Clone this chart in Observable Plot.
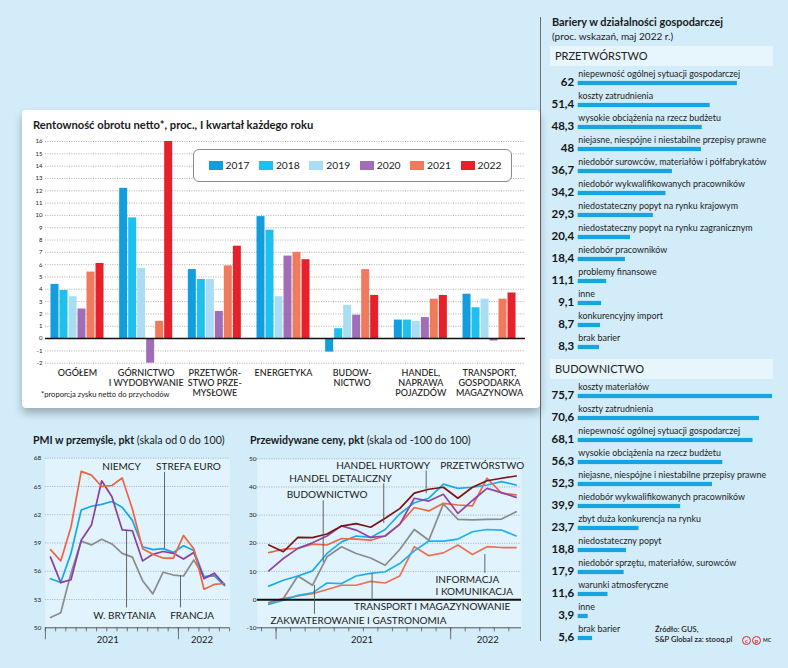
<!DOCTYPE html>
<html><head><meta charset="utf-8">
<script src="https://cdn.jsdelivr.net/npm/d3@7"></script>
<script src="https://cdn.jsdelivr.net/npm/@observablehq/plot@0.6"></script>
<style>
body{margin:0;background:#d2ecf9;}
#root{position:relative;width:788px;height:668px;overflow:hidden;background:#d2ecf9;font-family:Lato,"Noto Sans",sans-serif;color:#1a1a1a;}
#root div{position:absolute;white-space:nowrap;}
.b{font-weight:bold;}
</style></head><body><div id="root"></div>
<script>
// ---------- DATA ----------
const categories = ["OGÓŁEM","GÓRNICTWO\nI WYDOBYWANIE","PRZETWÓR-\nSTWO PRZE-\nMYSŁOWE","ENERGETYKA","BUDOW-\nNICTWO","HANDEL,\nNAPRAWA\nPOJAZDÓW","TRANSPORT,\nGOSPODARKA\nMAGAZYNOWA"];
const years = ["2017","2018","2019","2020","2021","2022"];
const yearColors = ["#129ede","#1ec0ee","#a8ddf4","#a06db6","#f07a5c","#e6212b"];
const v2017 = [4.4, 12.2, 5.6, 9.9, -1.1, 1.5, 3.6];
const v2018 = [3.9, 9.8, 4.8, 8.8, 0.8, 1.5, 2.5];
const v2019 = [3.4, 5.7, 4.8, 3.4, 2.7, 1.4, 3.2];
const v2020 = [2.4, -2.0, 2.2, 6.7, 1.9, 1.7, -0.2];
const v2021 = [5.4, 1.4, 5.9, 7.0, 5.6, 3.2, 3.2];
const v2022 = [6.1, 16.0, 7.5, 6.4, 3.5, 3.5, 3.7];
const barTicks = [-2,-1,0,1,2,3,4,5,6,7,8,9,10,11,12,13,14,15,16];

// months Dec 2020 .. May 2022
const months = ["XII 2020","I 2021","II 2021","III 2021","IV 2021","V 2021","VI 2021","VII 2021","VIII 2021","IX 2021","X 2021","XI 2021","XII 2021","I 2022","II 2022","III 2022","IV 2022","V 2022"];
const pmiNiemcy  = [58.3, 57.1, 60.7, 66.6, 66.2, 65.0, 65.1, 65.9, 62.6, 58.4, 57.8, 57.4, 57.4, 59.8, 58.4, 54.1, 54.6, 54.7];
const pmiEuro    = [55.2, 54.8, 57.9, 62.5, 62.9, 63.1, 63.4, 62.8, 61.4, 58.6, 58.3, 58.4, 58.0, 58.7, 58.2, 55.4, 55.6, 54.5];
const pmiUK      = [57.5, 54.8, 55.1, 59.3, 60.9, 65.6, 63.9, 60.4, 60.3, 57.1, 57.8, 58.1, 57.9, 57.3, 58.0, 55.2, 55.8, 54.6];
const pmiFrancja = [51.1, 51.6, 55.8, 59.2, 58.8, 59.4, 58.9, 57.9, 57.5, 55.0, 53.6, 55.9, 55.6, 55.5, 57.2, 55.4, 55.5, 54.5];
const pmiTicks = [50,53,56,59,62,65,68];

const cenyDetal    = [19.4, 17.0, 22.1, 22.0, 23.3, 26.1, 27.0, 25.7, 28.9, 32.3, 37.8, 39.2, 39.9, 36.0, 39.9, 42.2, 43.1, 43.9];
const cenyHurt     = [10.2, 14.6, 18.2, 20.2, 22.6, 26.2, 24.7, 22.1, 22.6, 26.7, 36.0, 35.0, 37.4, 30.6, 35.2, 39.5, 38.0, 36.3];
const cenyBudow    = [4.8, 6.9, 8.4, 10.2, 16.4, 20.5, 22.6, 22.1, 24.9, 30.4, 34.4, 36.0, 41.0, 39.5, 39.9, 40.7, 41.9, 40.7];
const cenyPrzetw   = [16.7, 17.9, 18.2, 19.7, 19.4, 21.7, 21.5, 21.1, 22.6, 26.8, 32.7, 31.5, 34.2, 33.6, 33.3, 43.1, 37.8, 37.2];
const cenyZakw     = [-1.2, 0.4, 8.4, 5.1, 15.2, 18.8, 16.4, 14.8, 12.2, 17.8, 24.9, 21.1, 34.0, 28.5, 28.3, 28.5, 28.6, 31.2];
const cenyTransp   = [-1.7, -0.2, 1.5, 2.4, 5.9, 5.7, 8.4, 9.3, 9.9, 12.8, 17.3, 20.8, 20.8, 21.5, 24.1, 24.9, 24.7, 22.6];
const cenyInfo     = [-1.0, 0.4, 1.3, 2.1, 3.6, 5.1, 5.1, 6.5, 5.9, 8.4, 18.8, 15.6, 16.6, 19.4, 16.0, 18.8, 18.5, 18.5];
const cenyTicks = [-10,0,10,20,30,40,50];

const przetLabels = ["niepewność ogólnej sytuacji gospodarczej","koszty zatrudnienia","wysokie obciążenia na rzecz budżetu","niejasne, niespójne i niestabilne przepisy prawne","niedobór surowców, materiałów i półfabrykatów","niedobór wykwalifikowanych pracowników","niedostateczny popyt na rynku krajowym","niedostateczny popyt na rynku zagranicznym","niedobór pracowników","problemy finansowe","inne","konkurencyjny import","brak barier"];
const przetValues = [62, 51.4, 48.3, 48, 36.7, 34.2, 29.3, 20.4, 18.4, 11.1, 9.1, 8.7, 8.3];
const budLabels = ["koszty materiałów","koszty zatrudnienia","niepewność ogólnej sytuacji gospodarczej","wysokie obciążenia na rzecz budżetu","niejasne, niespójne i niestabilne przepisy prawne","niedobór wykwalifikowanych pracowników","zbyt duża konkurencja na rynku","niedostateczny popyt","niedobór sprzętu, materiałów, surowców","warunki atmosferyczne","inne","brak barier"];
const budValues = [75.7, 70.6, 68.1, 56.3, 52.3, 39.9, 23.7, 18.8, 17.9, 11.6, 3.9, 5.6];

// annotations (data coordinates: month index, value)
const pmiNotes = [{text:"NIEMCY",t:6.94,v:67.1},{text:"STREFA EURO",t:13.48,v:67.1},{text:"W. BRYTANIA",t:7.23,v:51.3},{text:"FRANCJA",t:13.84,v:51.3}];
const pmiLeaders = [{t:7.43,v1:52.1,v2:60.3},{t:12.7,v1:52.1,v2:55.5},{t:11.14,v1:66.5,v2:58.4}];
const pmiYears = [{t:5.6,label:"2021"},{t:14.8,label:"2022"}];
const cenyNotes = [{text:"HANDEL HURTOWY",t:7.86,v:47.5},{text:"PRZETWÓRSTWO",t:14.67,v:47.5},{text:"HANDEL DETALICZNY",t:4.93,v:43.0},{text:"BUDOWNICTWO",t:4.01,v:37.2},{text:"ZAKWATEROWANIE I GASTRONOMIA",t:6.16,v:-7.6},{text:"TRANSPORT I MAGAZYNOWANIE",t:11.23,v:-2.6}];
const cenyInfoNote = [{text:"INFORMACJA\nI KOMUNIKACJA",t:11.46,v:5.1}];
const cenyLeaders = [{t:10.82,v1:45.7,v2:37.6},{t:7.9,v1:41.1,v2:27.1},{t:3.74,v1:35.1,v2:13.2},{t:3.14,v1:-5.2,v2:5.1},{t:7.1,v1:-0.25,v2:9.2},{t:14.85,v1:9.3,v2:16.0}];
const cenyYears = [{t:6.4,label:"2021"},{t:15.05,label:"2022"}];

// ---------- LAYOUT ----------
const root = document.getElementById("root");
function div(css, html){const d=document.createElement("div");d.style.cssText=css;if(html!==undefined)d.innerHTML=html;root.appendChild(d);return d;}
function place(node, left, top){const d=div(`left:${left}px;top:${top}px;`);d.appendChild(node);return d;}
const baseStyle = {fontFamily:"Lato, 'Noto Sans', sans-serif", fontSize:"6px", background:"none", color:"#222", overflow:"visible"};

div("left:540px;top:17px;width:1px;height:624px;background:#6f6f6f;");
div("left:22px;top:110px;width:518px;height:298px;background:#fff;border-radius:4px;box-shadow:0 5px 9px rgba(0,0,0,0.28);");
div("left:33px;top:119px;font-size:11.2px;line-height:12px;font-weight:bold;", "Rentowność obrotu netto*, proc., I kwartał każdego roku");
div("left:41px;top:389px;font-size:7.6px;line-height:10px;", "*proporcja zysku netto do przychodów");

// ---- bar chart ----
const bw = 9/68.67;
const yearValues = [v2017, v2018, v2019, v2020, v2021, v2022];
const barData = [];
categories.forEach((c,i)=>years.forEach((y,j)=>barData.push({i, j, value: yearValues[j][i], color: yearColors[j]})));
const barPlot = Plot.plot({
  width:518, height:298, marginLeft:23, marginRight:15, marginTop:31, marginBottom:45.3,
  x:{domain:[-0.466, 6.524], axis:null},
  y:{domain:[-2,16], ticks:barTicks, tickSize:0, tickPadding:3, label:null, tickFormat:d=>String(d)},
  color:{type:"identity"},
  style: baseStyle,
  marks:[
    Plot.ruleY(barTicks.filter(d=>d!==0), {stroke:"#8e8e8e", strokeWidth:0.7, strokeDasharray:"1,1.4"}),
    Plot.rectY(barData, {x1:d=>d.i+(d.j-3)*bw, x2:d=>d.i+(d.j-2)*bw, y1:0, y2:"value", fill:"color", insetLeft:0.5, insetRight:0.5}),
    Plot.ruleY([0], {stroke:"#111", strokeWidth:1.6}),
    Plot.text(categories, {x:(d,i)=>i, y:-2, text:d=>d, dy:6, lineAnchor:"top", lineHeight:1.1, fontSize:9, fontWeight:500, fill:"#222"})
  ]
});
place(barPlot, 22, 110);

// legend
const leg = div("left:193px;top:149px;width:317px;height:31px;border:1px solid #8a8a8a;border-radius:6px;background:#fff;");
years.forEach((y,j)=>{
  const x = 14.5 + j*50.4;
  const s = document.createElement("div");
  s.style.cssText=`position:absolute;left:${x}px;top:11px;width:14px;height:9px;background:${yearColors[j]};`;
  leg.appendChild(s);
  const t = document.createElement("div");
  t.style.cssText=`position:absolute;left:${x+17}px;top:9px;font-size:10.3px;line-height:12px;color:#222;`;
  t.textContent=y; leg.appendChild(t);
});

// ---- PMI ----
div("left:33px;top:434px;font-size:10.6px;line-height:12px;", "<span class='b'>PMI w przemyśle, pkt</span> (skala od 0 do 100)");
const pmiSeries = [
  {name:"FRANCJA", color:"#8c8c8c", values:pmiFrancja},
  {name:"STREFA EURO", color:"#19a7e4", values:pmiEuro},
  {name:"W. BRYTANIA", color:"#8b3f9f", values:pmiUK},
  {name:"NIEMCY", color:"#ee6446", values:pmiNiemcy}
];
const pmiRows = pmiSeries.flatMap(s=>s.values.map((v,t)=>({name:s.name, color:s.color, t, v, m:months[t]})));
const pmiPx = 169.6/18;
const pmiTickX = months.map((m,t)=>t-0.5).concat([17.5]);
const pmiPlot = Plot.plot({
  width:222, height:210, marginLeft:24.9, marginRight:12.9, marginTop:9.7, marginBottom:30.7,
  x:{domain:[-0.5,17.5], axis:null},
  y:{domain:[50,68], ticks:pmiTicks, tickSize:0, tickPadding:4.2, label:null, tickFormat:d=>String(d)},
  color:{type:"identity"},
  style:{...baseStyle, fontSize:"6.5px"},
  marks:[
    Plot.frame({fill:"#e1f3fc", stroke:"none"}),
    Plot.ruleY(pmiTicks.filter(d=>d!==50), {stroke:"#7f97a6", strokeWidth:0.7, strokeDasharray:"1,1.4"}),
    Plot.ruleY([50], {stroke:"#555", strokeWidth:1}),
    Plot.ruleX(pmiTickX, {x:d=>d, y1:50, y2:50-4/pmiPx, stroke:"#555", strokeWidth:0.8}),
    Plot.ruleX([-0.5, 12.5], {x:d=>d, y1:50, y2:50-12/pmiPx, stroke:"#555", strokeWidth:0.8}),
    Plot.line(pmiRows, {x:"t", y:"v", z:"name", stroke:"color", strokeWidth:1.7}),
    Plot.ruleX(pmiLeaders, {x:"t", y1:"v1", y2:"v2", stroke:"#555", strokeWidth:0.9}),
    Plot.text(pmiNotes, {x:"t", y:"v", text:"text", fontSize:10, fill:"#1a1a1a"}),
    Plot.text(pmiYears, {x:"t", y:50, text:"label", dy:12, fontSize:9.5, fill:"#1a1a1a"})
  ]
});
place(pmiPlot, 20, 448);

// ---- Ceny ----
div("left:250px;top:434px;font-size:10.6px;line-height:12px;", "<span class='b'>Przewidywane ceny, pkt</span> (skala od -100 do 100)");
const cenySeries = [
  {name:"Informacja i komunikacja", color:"#ef7050", values:cenyInfo},
  {name:"Transport i magazynowanie", color:"#1fb2ea", values:cenyTransp},
  {name:"Zakwaterowanie i gastronomia", color:"#8a8a8a", values:cenyZakw},
  {name:"Budownictwo", color:"#1aaee8", values:cenyBudow},
  {name:"Przetwórstwo", color:"#ee6848", values:cenyPrzetw},
  {name:"Handel hurtowy", color:"#9045a8", values:cenyHurt},
  {name:"Handel detaliczny", color:"#7a1418", values:cenyDetal}
];
const cenyRows = cenySeries.flatMap(s=>s.values.map((v,t)=>({name:s.name, color:s.color, t, v, m:months[t]})));
const cenyPx = 169/60;
const cenyTickX = months.map((m,t)=>t-0.5);
const cenyPlot = Plot.plot({
  width:285, height:210, marginLeft:11.95, marginRight:9, marginTop:10.3, marginBottom:30.7,
  x:{domain:[-0.78,17.37], axis:null},
  y:{domain:[-10,50], ticks:cenyTicks, tickSize:0, tickPadding:1, label:null, tickFormat:d=>String(d)},
  color:{type:"identity"},
  style:{...baseStyle, fontSize:"6.5px"},
  marks:[
    Plot.frame({fill:"#e1f3fc", stroke:"none"}),
    Plot.ruleY(cenyTicks.filter(d=>d>0), {stroke:"#7f97a6", strokeWidth:0.7, strokeDasharray:"1,1.4"}),
    Plot.ruleY([-10], {stroke:"#555", strokeWidth:1}),
    Plot.ruleX(cenyTickX, {x:d=>d, y1:-10, y2:-10-4/cenyPx, stroke:"#555", strokeWidth:0.8}),
    Plot.ruleX([0.5, 12.5], {x:d=>d, y1:-10, y2:-10-12/cenyPx, stroke:"#555", strokeWidth:0.8}),
    Plot.line(cenyRows, {x:"t", y:"v", z:"name", stroke:"color", strokeWidth:1.7}),
    Plot.ruleY([0], {stroke:"#111", strokeWidth:2}),
    Plot.ruleX(cenyLeaders, {x:"t", y1:"v1", y2:"v2", stroke:"#555", strokeWidth:0.9}),
    Plot.text(cenyNotes, {x:"t", y:"v", text:"text", fontSize:10, fill:"#1a1a1a"}),
    Plot.text(cenyInfoNote, {x:"t", y:"v", text:"text", textAnchor:"start", lineAnchor:"middle", lineHeight:1.2, fontSize:10, fill:"#1a1a1a"}),
    Plot.text(cenyYears, {x:"t", y:-10, text:"label", dy:12, fontSize:9.5, fill:"#1a1a1a"})
  ]
});
place(cenyPlot, 245, 448);

// ---- right panel ----
div("left:552px;top:16px;font-size:10.9px;line-height:12px;font-weight:bold;", "Bariery w działalności gospodarczej");
div("left:552px;top:30px;font-size:10px;line-height:12px;", "(proc. wskazań, maj 2022 r.)");
div("left:550px;top:46px;width:223px;height:19.5px;background:#e7f5fd;");
div("left:555px;top:50px;font-size:11px;line-height:12px;color:#222;", "PRZETWÓRSTWO");
div("left:550px;top:359px;width:223px;height:19.5px;background:#e7f5fd;");
div("left:555px;top:363px;font-size:11px;line-height:12px;color:#222;", "BUDOWNICTWO");

const fmt = v => String(v).replace(".", ",");
function barrierPlot(labels, values, marginTop, height){
  const rows = labels.map((l,i)=>({label:l, value:values[i]}));
  const step = 22.27;
  return Plot.plot({
    width:248, height, marginTop, marginBottom: height - marginTop - labels.length*step, marginLeft:37.7, marginRight:4.9,
    x:{domain:[0,80], axis:null},
    y:{domain:labels, axis:null, padding:0},
    style: baseStyle,
    marks:[
      Plot.barX(rows, {x:"value", y:"label", fill:"#17a5e1", insetTop:8.9, insetBottom:8.9}),
      Plot.text(rows, {x:0, y:"label", text:d=>fmt(d.value), textAnchor:"end", dx:-4, dy:-1.2, fontSize:11.5, fontWeight:"bold", fill:"#151515"}),
      Plot.text(rows, {x:0, y:"label", text:"label", textAnchor:"start", dy:-9.4, fontSize:8.9, fill:"#222"})
    ]
  });
}
place(barrierPlot(przetLabels, przetValues, 3.865, 295), 540, 66);
place(barrierPlot(budLabels, budValues, 3.17, 272), 540, 380);

div("left:655px;top:625px;font-size:7.6px;line-height:9.5px;font-weight:600;color:#222;", "Źródło: GUS,<br>S&amp;P Global za: stooq.pl");
div("left:742px;top:636px;width:7px;height:7px;border:1.3px solid #e2262d;border-radius:50%;font-size:6px;line-height:7px;text-align:center;color:#e2262d;font-weight:bold;", "c");
div("left:752px;top:636px;width:7px;height:7px;border:1.3px solid #e2262d;border-radius:50%;font-size:6px;line-height:7px;text-align:center;color:#e2262d;font-weight:bold;", "p");
div("left:763px;top:637px;font-size:5px;line-height:7px;font-weight:bold;color:#333;", "MC");
</script></body></html>
